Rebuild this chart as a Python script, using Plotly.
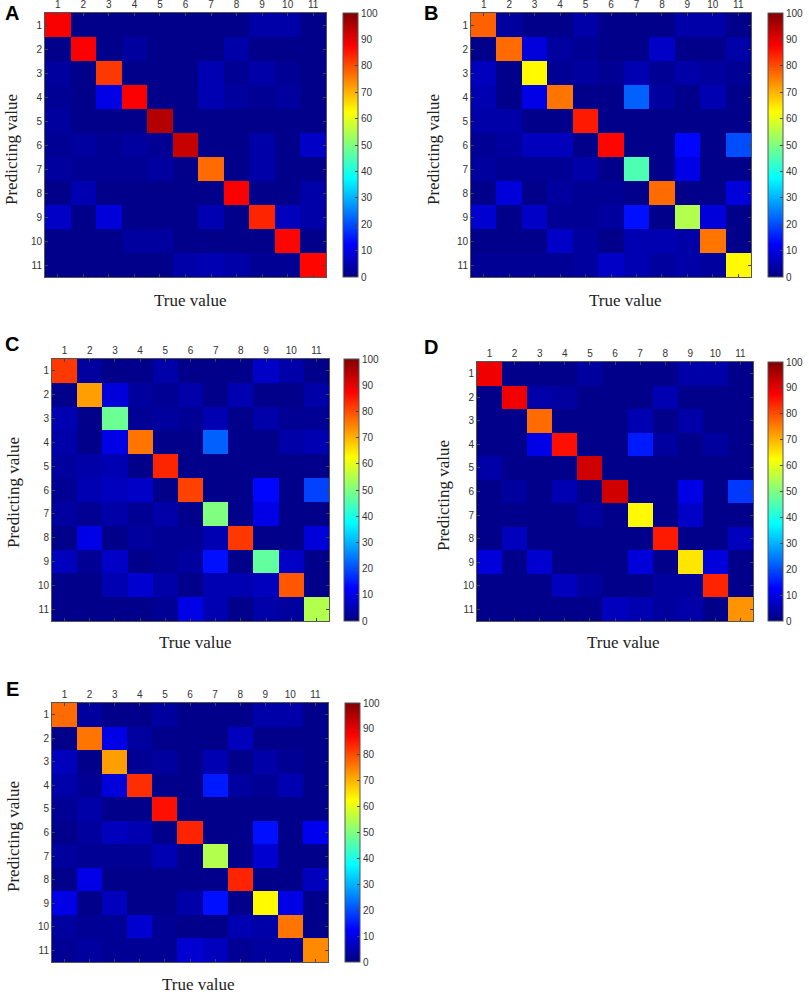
import plotly.graph_objects as go

W, H = 809, 994

classes = list(range(1, 12))
tick_text = [str(c) for c in classes]
cbar_ticks = list(range(0, 101, 10))
panel_names = ["A", "B", "C", "D", "E"]

# rows = predicting value, columns = true value
conf_a = [
    [88, 1, 1, 1, 1, 1, 1, 1, 4, 4, 1],
    [1, 88, 1, 3, 1, 1, 1, 4, 1, 1, 1],
    [3, 1, 82, 1, 1, 1, 5, 2, 4, 2, 1],
    [2, 1, 10, 88, 1, 1, 5, 3, 2, 3, 1],
    [3, 1, 1, 1, 95, 1, 1, 1, 1, 1, 1],
    [2, 3, 2, 3, 2, 93, 1, 1, 4, 1, 7],
    [3, 2, 2, 2, 3, 1, 77, 1, 4, 1, 1],
    [1, 5, 1, 1, 1, 1, 1, 88, 1, 1, 4],
    [7, 1, 9, 1, 1, 1, 5, 1, 84, 6, 4],
    [1, 1, 1, 3, 3, 1, 1, 1, 1, 87, 1],
    [1, 1, 1, 1, 1, 4, 5, 4, 2, 2, 87],
]
conf_b = [
    [78, 3, 1, 1, 4, 1, 1, 1, 4, 4, 1],
    [1, 77, 9, 3, 2, 1, 1, 7, 1, 1, 4],
    [6, 1, 63, 2, 3, 2, 5, 2, 4, 3, 2],
    [5, 1, 10, 76, 1, 1, 22, 3, 1, 5, 1],
    [4, 4, 1, 1, 85, 1, 1, 1, 1, 1, 1],
    [2, 3, 6, 6, 1, 87, 1, 1, 13, 1, 20],
    [3, 2, 2, 2, 4, 1, 45, 1, 10, 1, 1],
    [1, 9, 1, 3, 2, 2, 1, 77, 1, 1, 9],
    [8, 1, 7, 2, 2, 3, 14, 1, 55, 9, 1],
    [1, 1, 1, 7, 3, 1, 5, 5, 4, 76, 1],
    [2, 2, 2, 2, 3, 7, 5, 3, 4, 3, 63],
]
conf_c = [
    [82, 3, 1, 1, 4, 1, 1, 1, 7, 4, 1],
    [1, 72, 9, 3, 2, 4, 1, 5, 1, 1, 4],
    [5, 1, 48, 2, 3, 2, 5, 1, 4, 2, 2],
    [4, 1, 10, 76, 1, 1, 22, 1, 1, 4, 5],
    [3, 4, 5, 1, 84, 1, 1, 1, 1, 1, 1],
    [2, 5, 6, 7, 1, 81, 1, 1, 13, 1, 19],
    [3, 2, 4, 2, 4, 1, 50, 1, 10, 1, 1],
    [1, 10, 1, 3, 2, 2, 5, 82, 1, 1, 9],
    [6, 2, 7, 1, 2, 3, 14, 1, 47, 7, 1],
    [1, 1, 5, 8, 4, 1, 5, 5, 6, 79, 1],
    [1, 1, 1, 1, 2, 10, 5, 1, 4, 3, 55],
]
conf_d = [
    [89, 1, 1, 1, 3, 1, 1, 1, 4, 4, 1],
    [1, 89, 4, 3, 1, 1, 1, 5, 1, 1, 1],
    [1, 1, 77, 1, 1, 1, 5, 1, 4, 1, 1],
    [1, 1, 10, 86, 1, 1, 15, 3, 1, 3, 1],
    [4, 1, 1, 1, 92, 1, 1, 1, 1, 1, 1],
    [1, 3, 1, 5, 1, 92, 1, 1, 10, 1, 18],
    [1, 1, 1, 1, 3, 1, 63, 1, 7, 1, 1],
    [1, 6, 1, 1, 1, 1, 1, 85, 1, 1, 6],
    [9, 1, 8, 1, 1, 1, 9, 1, 65, 9, 1],
    [1, 1, 1, 6, 3, 1, 1, 3, 3, 84, 1],
    [1, 1, 1, 1, 1, 6, 5, 3, 4, 1, 73],
]
conf_e = [
    [77, 3, 1, 1, 3, 1, 1, 1, 4, 4, 1],
    [1, 76, 10, 3, 1, 1, 1, 6, 1, 1, 1],
    [6, 1, 72, 2, 3, 1, 5, 1, 4, 2, 1],
    [4, 2, 9, 83, 1, 1, 15, 3, 2, 5, 1],
    [2, 4, 1, 1, 86, 1, 1, 1, 1, 1, 1],
    [1, 3, 6, 5, 1, 84, 1, 1, 14, 1, 11],
    [3, 2, 2, 2, 5, 1, 55, 1, 8, 1, 1],
    [1, 10, 1, 1, 1, 1, 1, 84, 1, 1, 6],
    [10, 1, 6, 1, 1, 4, 14, 1, 63, 10, 1],
    [3, 2, 2, 8, 2, 1, 1, 5, 4, 76, 1],
    [2, 3, 2, 2, 2, 8, 6, 2, 3, 3, 74],
]
matrices = [conf_a, conf_b, conf_c, conf_d, conf_e]

# MATLAB style jet
jet = [
    [0.0, "rgb(0,0,128)"],
    [0.125, "rgb(0,0,255)"],
    [0.375, "rgb(0,255,255)"],
    [0.625, "rgb(255,255,0)"],
    [0.875, "rgb(255,0,0)"],
    [1.0, "rgb(128,0,0)"],
]

# pixel boxes: heatmap (x0, x1, y0, y1), colorbar left x, letter, ylabel, xlabel centres
panels = [
    dict(box=(45, 326, 13, 277), cb=343, letter=(12, 13), ylab=(11, 150), xlab=(190, 300)),
    dict(box=(471, 751, 13, 277), cb=768, letter=(431, 13), ylab=(433, 150), xlab=(625, 300)),
    dict(box=(52, 329, 359, 621), cb=344, letter=(12, 344), ylab=(13, 493), xlab=(195, 642)),
    dict(box=(477, 753, 362, 621), cb=768, letter=(431, 347), ylab=(443, 495), xlab=(623, 642)),
    dict(box=(52, 328, 703, 962), cb=345, letter=(12, 689), ylab=(13, 837), xlab=(198, 984)),
]


def px(x):
    return x / W


def py(y):
    return 1 - y / H


fig = go.Figure()
annotations = []
tick_font = dict(family="Liberation Sans, Arial", size=10, color="#333333")
label_font = dict(family="Liberation Serif, Times New Roman", size=17, color="#222222")

for i, (name, z, p) in enumerate(zip(panel_names, matrices, panels), start=1):
    x0, x1, y0, y1 = p["box"]
    xa = "x" if i == 1 else f"x{i}"
    ya = "y" if i == 1 else f"y{i}"
    fig.add_trace(go.Heatmap(
        z=z, x=classes, y=classes,
        xaxis=xa, yaxis=ya,
        colorscale=jet, zmin=0, zmax=100,
        colorbar=dict(
            x=px(p["cb"]), xanchor="left", xpad=0,
            y=py(y1), yanchor="bottom", ypad=0,
            len=(y1 - y0) / H, lenmode="fraction",
            thickness=15, thicknessmode="pixels",
            outlinewidth=1, outlinecolor="#555555",
            tickvals=cbar_ticks, ticks="inside", ticklen=3,
            tickcolor="#444444", tickfont=tick_font,
        ),
        hovertemplate="True %{x}<br>Pred %{y}<br>%{z}<extra></extra>",
    ))
    common = dict(
        tickvals=classes, ticktext=tick_text, tickfont=tick_font,
        ticks="inside", ticklen=3, tickcolor="#444444",
        showline=True, linecolor="#555555", linewidth=1, mirror="allticks",
        showgrid=False, zeroline=False, fixedrange=True,
    )
    fig.update_layout({
        ("xaxis" if i == 1 else f"xaxis{i}"): dict(
            domain=[px(x0), px(x1)], side="top", range=[0.5, 11.5],
            anchor=ya, **common),
        ("yaxis" if i == 1 else f"yaxis{i}"): dict(
            domain=[py(y1), py(y0)], range=[11.5, 0.5],
            anchor=xa, **common),
    })
    centred = dict(xref="paper", yref="paper", showarrow=False,
                   xanchor="center", yanchor="middle")
    annotations.append(dict(
        text=f"<b>{name}</b>", x=px(p["letter"][0]), y=py(p["letter"][1]),
        font=dict(family="Liberation Sans, Arial", size=20, color="black"), **centred,
    ))
    annotations.append(dict(
        text="Predicting value", x=px(p["ylab"][0]), y=py(p["ylab"][1]),
        textangle=-90, font=label_font, **centred,
    ))
    annotations.append(dict(
        text="True value", x=px(p["xlab"][0]), y=py(p["xlab"][1]),
        font=label_font, **centred,
    ))

fig.update_layout(
    width=W, height=H,
    margin=dict(l=0, r=0, t=0, b=0),
    paper_bgcolor="white", plot_bgcolor="white",
    annotations=annotations,
    showlegend=False,
)

# drop the default body margin so the figure fills the window exactly
fig.write_html(
    "out.html",
    config={"displayModeBar": False},
    post_script="document.body.style.margin = '0';",
)
